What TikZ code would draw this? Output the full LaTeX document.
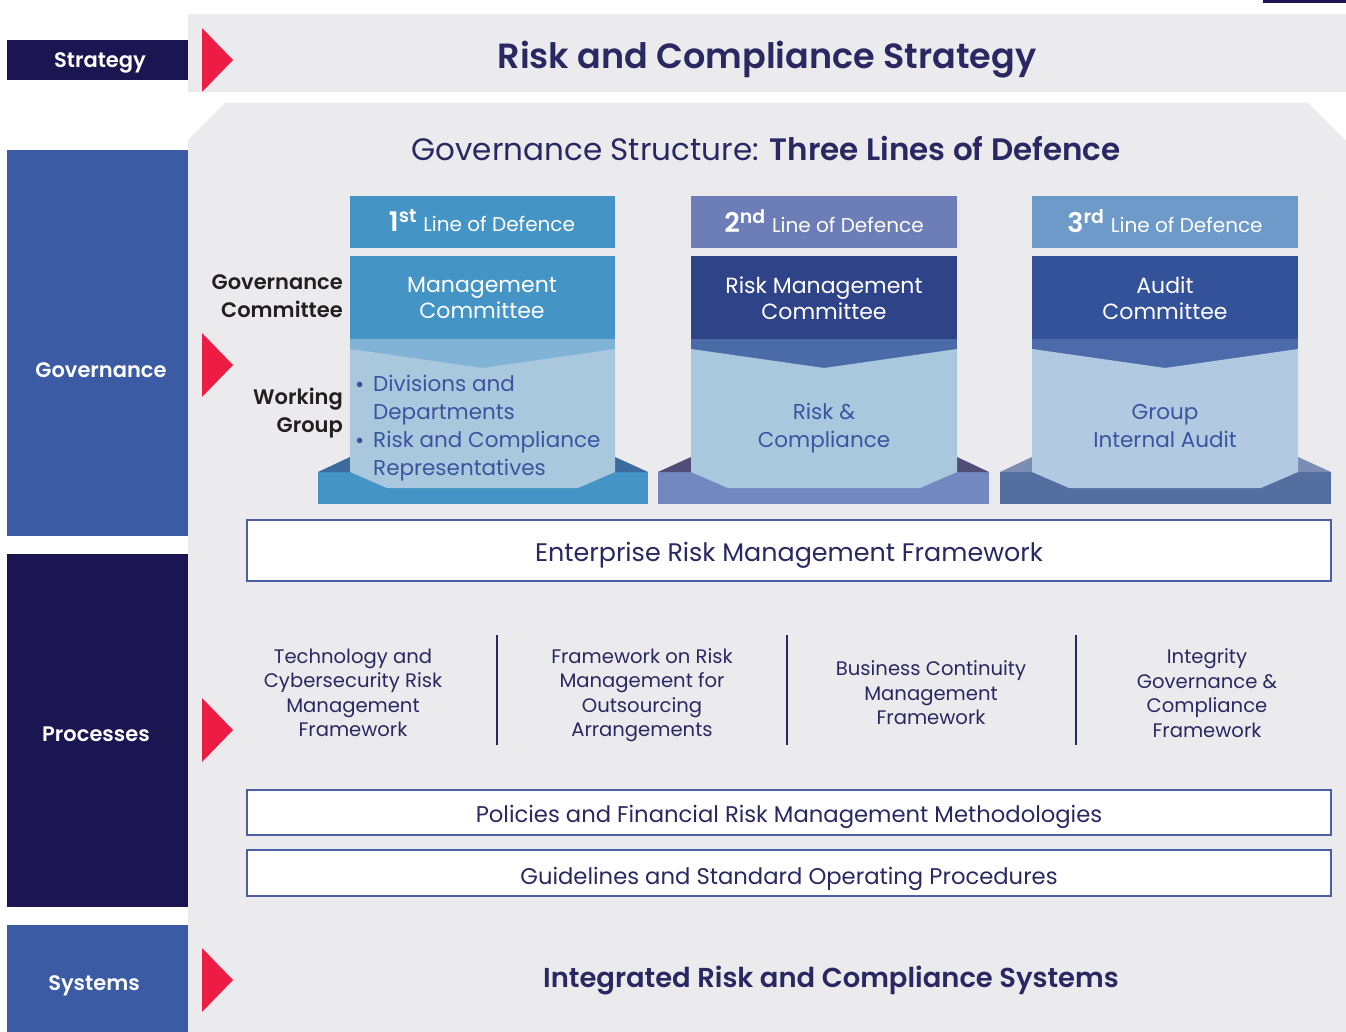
\documentclass[tikz,border=0pt]{standalone}
\usepackage{fontspec}
\setmainfont{Poppins}[BoldFont={Poppins SemiBold}]
\definecolor{navy}{HTML}{1B1551}
\definecolor{govblue}{HTML}{3B5BA5}
\definecolor{panel}{HTML}{EBEBED}
\definecolor{redtri}{HTML}{EC1C45}
\definecolor{titlecol}{HTML}{2A2862}
\definecolor{bodytext}{HTML}{3A55A0}
\definecolor{boxborder}{HTML}{4A5FA8}
\definecolor{labeltext}{HTML}{231F20}
\definecolor{ahead}{HTML}{4594C6}
\definecolor{aband}{HTML}{80B3D6}
\definecolor{abody}{HTML}{A9C8DD}
\definecolor{aside}{HTML}{3B6B9D}
\definecolor{bhead}{HTML}{6C7DB8}
\definecolor{bcomm}{HTML}{2E4388}
\definecolor{bband}{HTML}{4B6AA8}
\definecolor{bbody}{HTML}{A9C8DD}
\definecolor{bbase}{HTML}{7387C0}
\definecolor{bside}{HTML}{524C78}
\definecolor{chead}{HTML}{6E9AC9}
\definecolor{ccomm}{HTML}{335299}
\definecolor{cband}{HTML}{4D6BAA}
\definecolor{cbody}{HTML}{B2C9E2}
\definecolor{cbase}{HTML}{536E9F}
\definecolor{cside}{HTML}{7C8DB3}
\newcommand{\fs}[2]{\fontsize{#1}{#2}\selectfont}
\begin{document}
\begin{tikzpicture}[x=1pt,y=-1pt,
  sidelabel/.style={text=white,font=\bfseries\fs{21}{25},inner sep=0pt},
  redmark/.style={fill=redtri},
  headtxt/.style={text=white,inner sep=0pt},
  commtxt/.style={text=white,align=center,font=\fs{22}{26},inner sep=0pt},
  bodytxt/.style={text=bodytext,align=center,font=\fs{21.5}{28},inner sep=0pt},
  lefttxt/.style={text=labeltext,align=right,font=\bfseries\fs{21}{28},inner sep=0pt,anchor=east},
  framebox/.style={draw=boxborder,line width=1.2pt,fill=white},
  proctxt/.style={text=titlecol,align=center,font=\fs{19.6}{24.5},inner sep=0pt},
  boxtxt/.style={text=titlecol,font=\fs{22.7}{26},inner sep=0pt},
  sep/.style={draw=titlecol,line width=1.2pt}
]
\useasboundingbox (0,0) rectangle (1346,1032);
\fill[white] (0,0) rectangle (1346,1032);
% top right stray bar
\fill[navy] (1263,0) rectangle (1346,3);
% strategy
\fill[panel] (188,14) rectangle (1346,92);
\fill[navy] (7,40) rectangle (188,80);
\node[sidelabel] (lstrat) at (100,63) {Strategy};
\fill[redmark] (202,28) -- (233,60) -- (202,92) -- cycle;
\node[text=titlecol,font=\bfseries\fs{35}{40},inner sep=0pt] (tstrat) at (767,60) {Risk and Compliance Strategy};
% main panel
\fill[panel] (188,140) -- (225,103) -- (1308,103) -- (1346,141) -- (1346,1032) -- (188,1032) -- cycle;
% left labels
\fill[govblue] (7,150) rectangle (188,536);
\node[sidelabel] (lgov) at (101,370) {Governance};
\fill[navy] (7,554) rectangle (188,907);
\node[sidelabel] (lproc) at (96,734) {Processes};
\fill[govblue] (7,925) rectangle (188,1032);
\node[sidelabel] (lsys) at (94,986) {Systems};
% red triangles
\fill[redmark] (202,333) -- (233,365) -- (202,397) -- cycle;
\fill[redmark] (202,698) -- (233,730) -- (202,762) -- cycle;
\fill[redmark] (202,948) -- (233,980) -- (202,1012) -- cycle;
% governance title
\node[text=titlecol,font=\fs{31}{34},inner sep=0pt] (tgov) at (766,148) {Governance Structure: \textbf{Three Lines of Defence}};
% left text labels
\node[lefttxt] (gcomm) at (343,296) {Governance\\Committee};
\node[lefttxt] (wgroup) at (343,413) {Working\\Group};
% ---- column 1
\fill[ahead] (318,472) rectangle (648,504);
\fill[aside] (318,472) -- (350,457) -- (350,472) -- cycle;
\fill[aside] (615,457) -- (648,472) -- (615,472) -- cycle;
\fill[ahead] (350,196) rectangle (615,248);
\fill[ahead] (350,256) rectangle (615,339);
\fill[aband] (350,339) rectangle (615,370);
\fill[abody] (350,349) -- (482.5,368) -- (615,349) -- (615,472) -- (578,488) -- (387,488) -- (350,472) -- cycle;
\node[headtxt] (h1) at (482,221) {\fs{27}{27}\bfseries 1\textsuperscript{st}\ \mdseries\fs{20}{20}Line of Defence};
\node[commtxt] (c1) at (482,298) {Management\\Committee};
\node[text=bodytext,align=left,font=\fs{21.5}{28},inner sep=0pt,anchor=north west] (b1) at (356,375)
  {\makebox[17pt][l]{\fs{14}{14}\raisebox{3pt}{$\bullet$}}Divisions and\\\hspace*{17pt}Departments\\\makebox[17pt][l]{\fs{14}{14}\raisebox{3pt}{$\bullet$}}Risk and Compliance\\\hspace*{17pt}Representatives};
% ---- column 2
\fill[bbase] (658,472) rectangle (989,504);
\fill[bside] (658,472) -- (691,457) -- (691,472) -- cycle;
\fill[bside] (957,457) -- (989,472) -- (957,472) -- cycle;
\fill[bhead] (691,196) rectangle (957,248);
\fill[bcomm] (691,256) rectangle (957,339);
\fill[bband] (691,339) rectangle (957,370);
\fill[bbody] (691,349) -- (824,368) -- (957,349) -- (957,472) -- (920,488) -- (728,488) -- (691,472) -- cycle;
\node[headtxt] (h2) at (824,221) {\fs{27}{27}\bfseries 2\textsuperscript{nd}\ \mdseries\fs{20}{20}Line of Defence};
\node[commtxt] (c2) at (824,298) {Risk Management\\Committee};
\node[bodytxt] (b2) at (824,428) {Risk \&\\Compliance};
% ---- column 3
\fill[cbase] (1000,472) rectangle (1331,504);
\fill[cside] (1000,472) -- (1032,457) -- (1032,472) -- cycle;
\fill[cside] (1298,457) -- (1331,472) -- (1298,472) -- cycle;
\fill[chead] (1032,196) rectangle (1298,248);
\fill[ccomm] (1032,256) rectangle (1298,339);
\fill[cband] (1032,339) rectangle (1298,370);
\fill[cbody] (1032,349) -- (1165,368) -- (1298,349) -- (1298,472) -- (1261,488) -- (1069,488) -- (1032,472) -- cycle;
\node[headtxt] (h3) at (1165,221) {\fs{27}{27}\bfseries 3\textsuperscript{rd}\ \mdseries\fs{20}{20}Line of Defence};
\node[commtxt] (c3) at (1165,298) {Audit\\Committee};
\node[bodytxt] (b3) at (1165,426) {Group\\Internal Audit};
% ---- ERM
\draw[framebox] (247,520) rectangle (1331,581);
\node[boxtxt,font=\fs{25.4}{28}] (erm) at (789,555) {Enterprise Risk Management Framework};
% ---- processes
\node[proctxt] (p1) at (353,693) {Technology and\\Cybersecurity Risk\\Management\\Framework};
\node[proctxt] (p2) at (642,695) {Framework on Risk\\Management for\\Outsourcing\\Arrangements};
\node[proctxt] (p3) at (931,693) {Business Continuity\\Management\\Framework};
\node[proctxt] (p4) at (1207,693) {Integrity\\Governance \&\\Compliance\\Framework};
\coordinate (s1a) at (497,635); \coordinate (s1b) at (497,745);
\coordinate (s2a) at (787,635); \coordinate (s2b) at (787,745);
\coordinate (s3a) at (1076,635); \coordinate (s3b) at (1076,745);
\draw[sep] (s1a) -- (s1b);
\draw[sep] (s2a) -- (s2b);
\draw[sep] (s3a) -- (s3b);
% ---- policies & guidelines
\draw[framebox] (247,790) rectangle (1331,835);
\node[boxtxt] (pol) at (789,817) {Policies and Financial Risk Management Methodologies};
\draw[framebox] (247,850) rectangle (1331,896);
\node[boxtxt] (gui) at (789,879) {Guidelines and Standard Operating Procedures};
% ---- systems
\node[text=titlecol,font=\bfseries\fs{27.4}{32},inner sep=0pt] (sys) at (831,980) {Integrated Risk and Compliance Systems};
\end{tikzpicture}
\end{document}
